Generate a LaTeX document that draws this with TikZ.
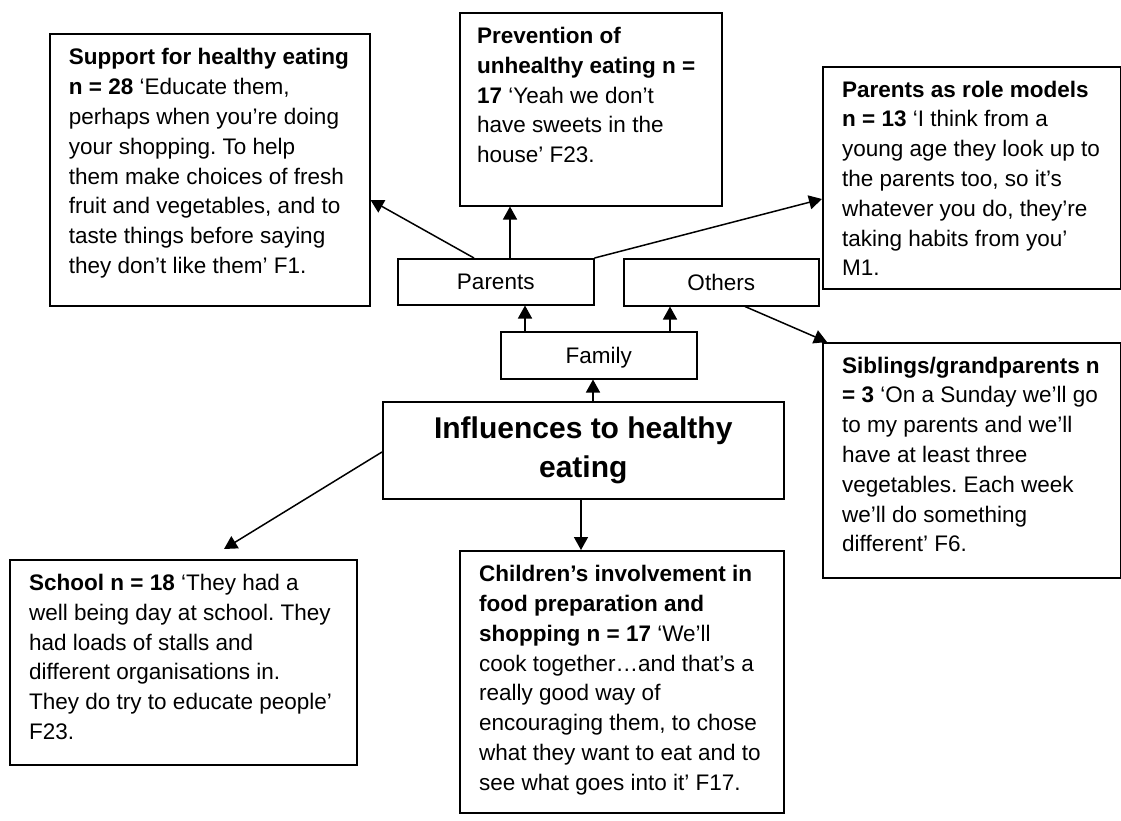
\documentclass[tikz,border=0pt]{standalone}
\usepackage{fontspec}
\setmainfont{Liberation Sans}
\usetikzlibrary{arrows.meta,calc}
\frenchspacing
\newcommand{\bodyfont}{\fontsize{22.5}{29.8}\selectfont}
\newcommand{\qtext}[1]{\parbox[t]{400pt}{\raggedright\frenchspacing\bodyfont #1}}
\begin{document}
\begin{tikzpicture}[x=1pt,y=-1pt,
  box/.style={draw, line width=1.5pt, inner sep=0pt, anchor=north west, rectangle},
  small/.style={box, font=\bodyfont, text height=16pt, text depth=0pt},
  txt/.style={inner sep=0pt, anchor=base west},
  arr/.style={line width=1.5pt, -{Triangle[length=13pt,width=14pt]}}]
\useasboundingbox (0,0) rectangle (1121,820);
\fill[white] (0,0) rectangle (1121,820);

% boxes
\node[box, minimum width=320pt, minimum height=272pt] (sup) at (49,33) {};
\node[box, minimum width=262pt, minimum height=193pt] (prev) at (459,12) {};
\node[box, minimum width=297.5pt, minimum height=222pt] (role) at (822,66) {};
\node[box, minimum width=298pt, minimum height=235pt] (sib) at (822,342) {};
\node[box, minimum width=347pt, minimum height=205pt] (school) at (9,559) {};
\node[box, minimum width=324pt, minimum height=262pt] (child) at (459,550) {};

\node[small, minimum width=196pt, minimum height=46pt] (par) at (397,258) {Parents};
\node[small, minimum width=195pt, minimum height=47pt] (oth) at (623,258) {Others};
\node[small, minimum width=196pt, minimum height=47pt] (fam) at (500,331) {Family};
\node[box, minimum width=401pt, minimum height=97pt, align=center,
      font=\bfseries\fontsize{30}{38.5}\selectfont] (infl) at (382,401) {Influences to healthy\\eating};

% texts
\node[txt] (suptxt) at ($(sup.north west)+(19.7,31.8)$) {\qtext{%
\textbf{Support for healthy eating}\\
\textbf{n = 28} ‘Educate them,\\
perhaps when you’re doing\\
your shopping. To help\\
them make choices of fresh\\
fruit and vegetables, and to\\
taste things before saying\\
they don’t like them’ F1.}};

\node[txt] (prevtxt) at ($(prev.north west)+(18,31.5)$) {\qtext{%
\textbf{Prevention of}\\
\textbf{unhealthy eating n =}\\
\textbf{17} ‘Yeah we don’t\\
have sweets in the\\
house’ F23.}};

\node[txt] (roletxt) at ($(role.north west)+(20,31)$) {\qtext{%
\textbf{Parents as role models}\\
\textbf{n = 13} ‘I think from a\\
young age they look up to\\
the parents too, so it’s\\
whatever you do, they’re\\
taking habits from you’\\
M1.}};

\node[txt] (sibtxt) at ($(sib.north west)+(20,31)$) {\qtext{%
\textbf{Siblings/grandparents n}\\
\textbf{= 3} ‘On a Sunday we’ll go\\
to my parents and we’ll\\
have at least three\\
vegetables. Each week\\
we’ll do something\\
different’ F6.}};

\node[txt] (schooltxt) at ($(school.north west)+(20,31.5)$) {\qtext{%
\textbf{School n = 18} ‘They had a\\
well being day at school. They\\
had loads of stalls and\\
different organisations in.\\
They do try to educate people’\\
F23.}};

\node[txt] (childtxt) at ($(child.north west)+(20,31.7)$) {\qtext{%
\textbf{Children’s involvement in}\\
\textbf{food preparation and}\\
\textbf{shopping n = 17} ‘We’ll\\
cook together…and that’s a\\
really good way of\\
encouraging them, to chose\\
what they want to eat and to\\
see what goes into it’ F17.}};

% connectors
\draw[arr] ($(par.north west)+(77,0)$) -- ($(sup.north east)+(0,167)$);
\draw[arr] ($(par.north west)+(113,0)$) -- ($(prev.south west)+(51,0)$);
\draw[arr] (par.north east) -- ($(role.north west)+(0,133)$);
\draw[arr] ($(oth.south west)+(122,0)$) -- ($(sib.north west)+(5,0)$);
\draw[arr] ($(fam.north west)+(25,0)$) -- ($(par.south west)+(128,0)$);
\draw[arr] ($(fam.north west)+(170,0)$) -- ($(oth.south west)+(47,0)$);
\draw[arr] ($(infl.north west)+(211,0)$) -- ($(fam.south west)+(93,0)$);
\draw[arr] ($(infl.north west)+(0,51)$) -- ($(school.north west)+(215,-10)$);
\draw[arr] ($(infl.south west)+(199,0)$) -- ($(child.north west)+(122,0)$);
\end{tikzpicture}
\end{document}
